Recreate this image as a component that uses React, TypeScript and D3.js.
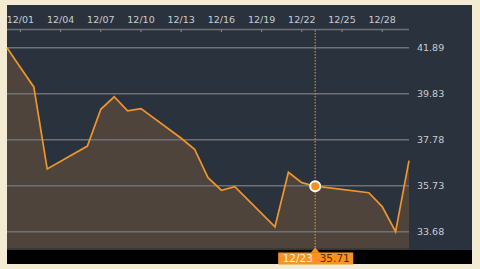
import React from "react";
import * as d3 from "d3";

const dates = ["2021-11-30","2021-12-01","2021-12-02","2021-12-03","2021-12-06","2021-12-07","2021-12-08","2021-12-09","2021-12-10","2021-12-13","2021-12-14","2021-12-15","2021-12-16","2021-12-17","2021-12-20","2021-12-21","2021-12-22","2021-12-23","2021-12-27","2021-12-28","2021-12-29","2021-12-30"];
const values = [41.89,41.01,40.14,36.48,37.5,39.14,39.7,39.07,39.17,37.85,37.36,36.09,35.53,35.69,33.9,36.33,35.87,35.71,35.42,34.8,33.68,36.85];
const xTickLabels = ["12/01","12/04","12/07","12/10","12/13","12/16","12/19","12/22","12/25","12/28"];
const yTickLabels = ["33.68","35.73","37.78","39.83","41.89"];
const hoverIndex = 17;
const hoverLabel = "12/23";

const W = 480, H = 269;
const parse = d3.timeParse("%Y-%m-%d");

export default function App() {
  const pts = dates.map((d, i) => ({ d: parse(d) as Date, v: values[i] }));
  const x = d3.scaleTime()
    .domain([parse("2021-11-30") as Date, parse("2021-12-30") as Date])
    .range([7, 409]);
  const vmin = d3.min(values) as number, vmax = d3.max(values) as number;
  const y = d3.scaleLinear().domain([vmin, vmax]).range([231.7, 47.7]);
  const plotBottom = 249;
  const line = d3.line<any>().x(p => x(p.d)).y(p => y(p.v));
  const area = d3.area<any>().x(p => x(p.d)).y0(plotBottom).y1(p => y(p.v));
  const tickDates = xTickLabels.map(l => parse("2021-" + l.replace("/", "-")) as Date);
  const hp = pts[hoverIndex];
  const hx = x(hp.d), hy = y(hp.v);
  const font = "DejaVu Sans, Verdana, sans-serif";

  return (
    <svg width={W} height={H} style={{ position: "absolute", left: 0, top: 0 }} xmlns="http://www.w3.org/2000/svg">
      <rect x={0} y={0} width={W} height={H} fill="#f4ebd3" />
      <rect x={7} y={5} width={465} height={259} fill="#2a323d" />
      <rect x={7} y={250} width={465} height={14} fill="#000" />
      <path d={area(pts) || ""} fill="#4e443b" />
      {yTickLabels.map((t, i) => (
        <g key={i}>
          <line x1={7} x2={409} y1={y(+t)} y2={y(+t)} stroke="#6e7176" strokeWidth={1.5} />
          <text x={417} y={y(+t) + 3.5} fill="#c9cdd2" fontSize={9.5} fontFamily={font}>{t}</text>
        </g>
      ))}
      <line x1={7} x2={409} y1={248.8} y2={248.8} stroke="#3c3a38" strokeWidth={1.5} />
      <line x1={7} x2={409} y1={29.5} y2={29.5} stroke="#6e7176" strokeWidth={1.5} />
      {tickDates.map((d, i) => (
        <g key={i}>
          <line x1={x(d)} x2={x(d)} y1={29.5} y2={32} stroke="#8a8e94" strokeWidth={1} />
          <text x={x(d)} y={23} textAnchor="middle" fill="#c9cdd2" fontSize={9.5} fontFamily={font}>{xTickLabels[i]}</text>
        </g>
      ))}
      <line x1={hx} x2={hx} y1={30} y2={248} stroke="#d08a3a" strokeWidth={1.2} strokeDasharray="1.5,1.5" />
      <path d={line(pts) || ""} fill="none" stroke="#f0952e" strokeWidth={1.7} strokeLinejoin="miter" />
      <circle cx={hx} cy={hy} r={5} fill="#f7921f" stroke="#fff" strokeWidth={2} />
      <rect x={hx - 37} y={252.5} width={75} height={12} fill="#f7931e" />
      <path d={`M${hx - 4.5},252.8 L${hx},247.5 L${hx + 4.5},252.8 Z`} fill="#f7931e" />
      <text x={hx - 32.5} y={261.8} fill="#fff3e0" fontSize={10.5} fontFamily={font}>{hoverLabel}</text>
      <text x={hx + 4.5} y={261.8} fill="#5b2c05" fontSize={10.5} fontFamily={font}>{hp.v.toFixed(2)}</text>
    </svg>
  );
}
